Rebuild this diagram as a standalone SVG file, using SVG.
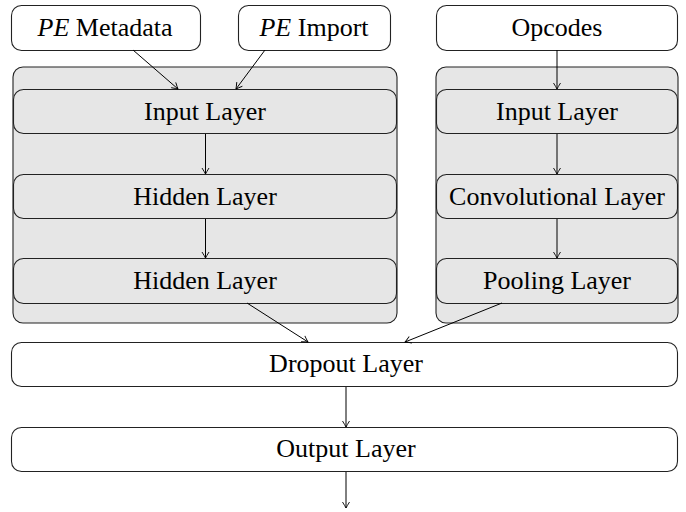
<svg xmlns="http://www.w3.org/2000/svg" width="686" height="512" viewBox="0 0 686 512">
<defs>
<marker id="arr" viewBox="-8 -5 10 10" refX="0" refY="0" markerWidth="10" markerHeight="10" markerUnits="userSpaceOnUse" orient="auto">
<path d="M-6,-3.5 Q-2,-1 0,0 Q-2,1 -6,3.5" fill="none" stroke="#000" stroke-width="0.9"/>
</marker>
<style>
.box{fill:#fff;stroke:#222;stroke-width:1.1}
.grp{fill:#e6e6e6;stroke:#222;stroke-width:1.1}
.lay{fill:#e6e6e6;stroke:#222;stroke-width:1.1}
text{font-family:'Liberation Serif','Times New Roman',serif;font-size:26px;fill:#000;text-anchor:middle}
.it{font-style:italic}
.e{fill:none;stroke:#000;stroke-width:1;marker-end:url(#arr)}
</style>
</defs>
<rect width="686" height="512" fill="#fff"/>
<g id="groupLeft"><rect class="grp" x="13" y="67" width="384" height="256" rx="10"/></g>
<g id="groupRight"><rect class="grp" x="436" y="67" width="242" height="256" rx="10"/></g>
<g font-family="'Liberation Serif', 'Times New Roman', serif">
<g id="peMeta"><rect class="box" x="11.5" y="5.5" width="189" height="45" rx="10"/><text x="105" y="36"><tspan class="it">PE</tspan> Metadata</text></g>
<g id="peImport"><rect class="box" x="238.5" y="5.5" width="152" height="45" rx="10"/><text x="314" y="36"><tspan class="it">PE</tspan> Import</text></g>
<g id="opcodes"><rect class="box" x="436.5" y="5.5" width="241" height="45" rx="10"/><text x="557" y="36">Opcodes</text></g>
<g id="inputL"><rect class="lay" x="13.5" y="89.5" width="383" height="44" rx="10"/><text x="205" y="120">Input Layer</text></g>
<g id="hidden1"><rect class="lay" x="13.5" y="174.5" width="383" height="44" rx="10"/><text x="205" y="205">Hidden Layer</text></g>
<g id="hidden2"><rect class="lay" x="13.5" y="258.5" width="383" height="45" rx="10"/><text x="205" y="289">Hidden Layer</text></g>
<g id="inputR"><rect class="lay" x="436.5" y="89.5" width="241" height="44" rx="10"/><text x="557" y="120">Input Layer</text></g>
<g id="conv"><rect class="lay" x="436.5" y="174.5" width="241" height="44" rx="10"/><text x="557" y="205">Convolutional Layer</text></g>
<g id="pool"><rect class="lay" x="436.5" y="258.5" width="241" height="45" rx="10"/><text x="557" y="289">Pooling Layer</text></g>
<g id="dropout"><rect class="box" x="11.5" y="342.5" width="666" height="44" rx="10"/><text x="346" y="372">Dropout Layer</text></g>
<g id="output"><rect class="box" x="11.5" y="427.5" width="666" height="44" rx="10"/><text x="346" y="457">Output Layer</text></g>
</g>
<g id="connectors">
<line class="e" x1="133" y1="50" x2="178" y2="89"/>
<line class="e" x1="265" y1="50" x2="236" y2="89"/>
<line class="e" x1="557" y1="50" x2="557" y2="89"/>
<line class="e" x1="205.5" y1="134" x2="205.5" y2="174"/>
<line class="e" x1="205.5" y1="219" x2="205.5" y2="258"/>
<line class="e" x1="557" y1="134" x2="557" y2="174"/>
<line class="e" x1="557" y1="219" x2="557" y2="258"/>
<line class="e" x1="247" y1="303" x2="308" y2="342"/>
<line class="e" x1="502" y1="303" x2="405" y2="342"/>
<line class="e" x1="346" y1="387" x2="346" y2="427"/>
<line class="e" x1="346" y1="472" x2="346" y2="508"/>
</g>
</svg>
